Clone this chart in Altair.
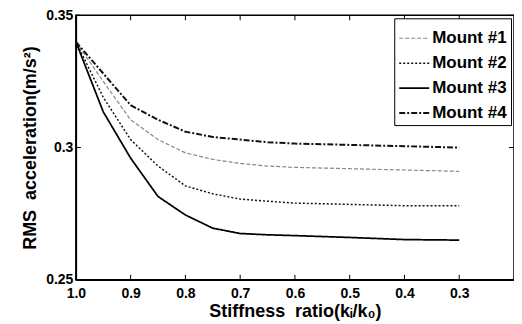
import altair as alt
import pandas as pd

ratio = [1.0, 0.95, 0.9, 0.85, 0.8, 0.75, 0.7, 0.65, 0.6, 0.5, 0.4, 0.3]
mount1 = [0.340, 0.325, 0.3105, 0.303, 0.298, 0.2955, 0.294, 0.293, 0.2925, 0.292, 0.2915, 0.291]
mount2 = [0.340, 0.319, 0.303, 0.293, 0.2855, 0.2825, 0.2805, 0.2797, 0.279, 0.2785, 0.278, 0.278]
mount3 = [0.340, 0.3135, 0.296, 0.2815, 0.2745, 0.2695, 0.2675, 0.267, 0.2667, 0.266, 0.2652, 0.265]
mount4 = [0.340, 0.328, 0.316, 0.3105, 0.306, 0.304, 0.303, 0.302, 0.3015, 0.301, 0.3005, 0.300]
series = ["Mount #1", "Mount #2", "Mount #3", "Mount #4"]
x_ticks = [1.0, 0.9, 0.8, 0.7, 0.6, 0.5, 0.4, 0.3]
y_ticks = [0.25, 0.3, 0.35]

rows = []
for name, vals in zip(series, [mount1, mount2, mount3, mount4]):
    for i, (r, v) in enumerate(zip(ratio, vals)):
        rows.append({"series": name, "ratio": r, "acc": v, "order": i})
df = pd.DataFrame(rows)

W, H = 439, 265
FONT = "Liberation Sans"

xs = alt.Scale(domain=[0.2, 1.0], reverse=True, nice=False, zero=False)
ys = alt.Scale(domain=[0.25, 0.35], nice=False, zero=False)

lines = alt.Chart(df).mark_line().encode(
    x=alt.X("ratio:Q", scale=xs,
            axis=alt.Axis(values=x_ticks, format=".1f", title="Stiffness\u00a0\u00a0ratio(kᵢ/k₀)",
                          tickSize=0, labelPadding=7, grid=False, labelFlush=False,
                          labelOverlap=False)),
    y=alt.Y("acc:Q", scale=ys,
            axis=alt.Axis(values=y_ticks, format=".2~f", title="RMS\u00a0\u00a0acceleration(m/s²)",
                          tickSize=0, labelPadding=3, grid=False, labelFlush=False,
                          labelOverlap=False)),
    order="order:Q",
    color=alt.Color("series:N", scale=alt.Scale(domain=series, range=["#888888", "#111111", "#000000", "#111111"]),
                    legend=alt.Legend(title=None)),
    strokeDash=alt.StrokeDash("series:N", scale=alt.Scale(domain=series, range=[[4, 2], [2, 2], [1, 0], [6, 2, 2, 2]]),
                              legend=alt.Legend(title=None)),
    strokeWidth=alt.StrokeWidth("series:N", scale=alt.Scale(domain=series, range=[1.2, 2, 2.6, 2.2]),
                                legend=alt.Legend(title=None)),
)

tick_df = pd.DataFrame({"t": x_ticks})
ytick_df = pd.DataFrame({"t": y_ticks})
xt_bottom = alt.Chart(tick_df).mark_rule(color="black").encode(
    x=alt.X("t:Q", scale=xs), y=alt.value(H), y2=alt.value(H - 5))
xt_top = alt.Chart(tick_df).mark_rule(color="black").encode(
    x=alt.X("t:Q", scale=xs), y=alt.value(0), y2=alt.value(5))
yt_left = alt.Chart(ytick_df).mark_rule(color="black").encode(
    y=alt.Y("t:Q", scale=ys), x=alt.value(0), x2=alt.value(5))
yt_right = alt.Chart(ytick_df).mark_rule(color="black").encode(
    y=alt.Y("t:Q", scale=ys), x=alt.value(W), x2=alt.value(W - 5))

chart = alt.layer(lines, xt_bottom, xt_top, yt_left, yt_right).properties(
    width=W, height=H,
    autosize=alt.AutoSizeParams(type="none"),
    padding={"left": 68, "top": 7, "right": 0, "bottom": 46},
).configure_view(stroke="black", strokeWidth=1.5).configure_axis(
    domainColor="black", domainWidth=1.5,
    labelFont=FONT, labelFontWeight="bold", labelFontSize=14, labelColor="black",
    titleFont=FONT, titleFontWeight="bold", titleFontSize=18, titleColor="black",
).configure_axisY(titlePadding=6).configure_axisX(titlePadding=2).configure_legend(
    orient="top-right", offset=3, strokeColor="black", fillColor="white",
    padding=4, labelFont=FONT, labelFontWeight="bold", labelFontSize=17,
    labelColor="black", symbolType="stroke", symbolSize=900, symbolStrokeWidth=2,
    rowPadding=1, labelOffset=2, cornerRadius=0,
)

chart.save("out.html", embed_options={"renderer": "svg", "actions": False})
